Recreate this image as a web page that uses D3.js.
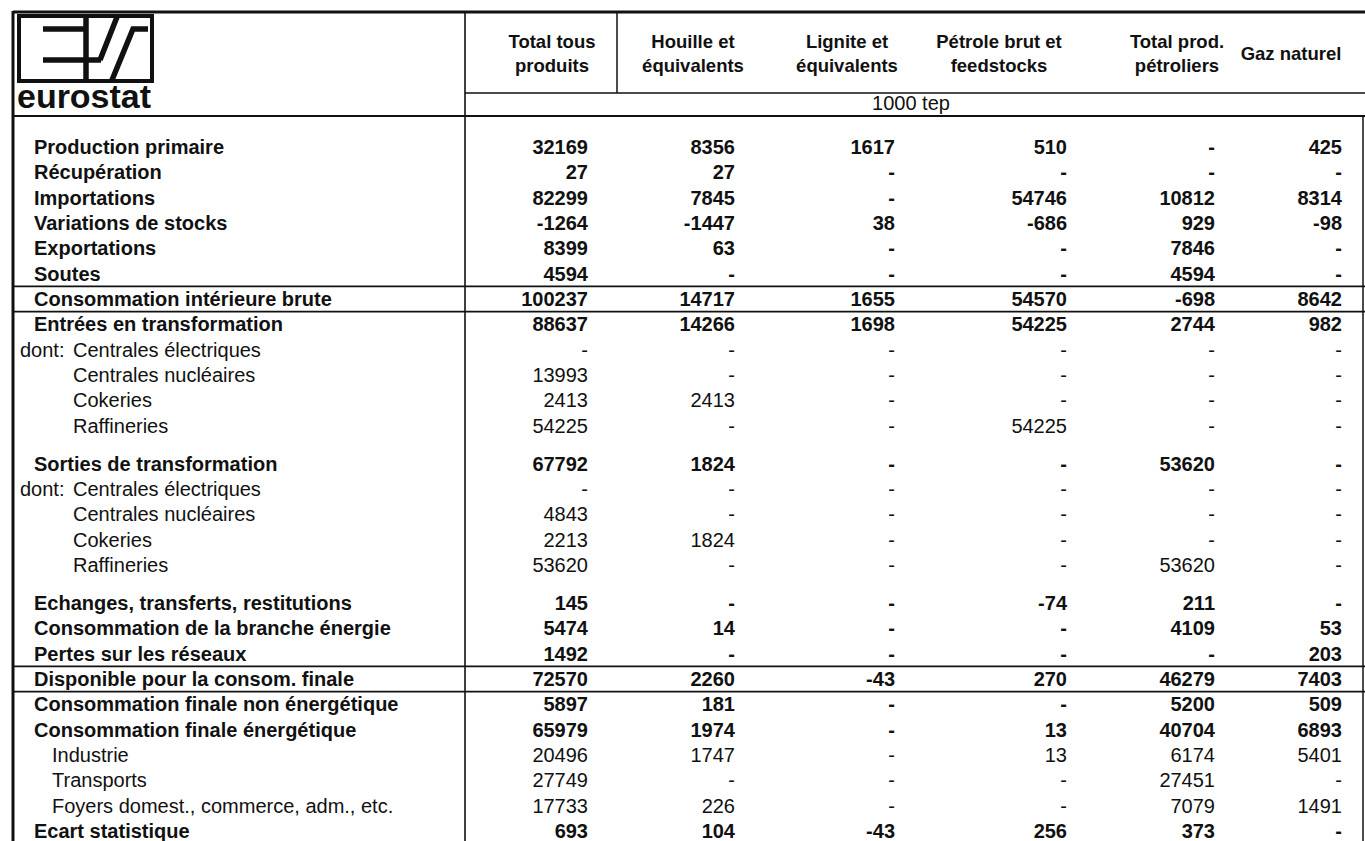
<!DOCTYPE html>
<html>
<head>
<meta charset="utf-8">
<script src="https://cdn.jsdelivr.net/npm/d3@7"></script>
<style>
  body { margin: 0; background: #fff; }
  svg { display: block; }
  text { font-family: "Liberation Sans", Arial, Helvetica, sans-serif; fill: #111; }
</style>
</head>
<body>
<svg id="table" width="1365" height="841"></svg>
<script>
// column headers (one or two lines each) and the unit line
const headers = [
  ["Total tous", "produits"],
  ["Houille et", "équivalents"],
  ["Lignite et", "équivalents"],
  ["Pétrole brut et", "feedstocks"],
  ["Total prod.", "pétroliers"],
  ["Gaz naturel"]
];
const unitLabel = "1000 tep";

// row labels, kind (b = bold, d = "dont:", s = sub item, i = indented item), block
const rowLabels = [
  "Production primaire", "Récupération", "Importations", "Variations de stocks",
  "Exportations", "Soutes", "Consommation intérieure brute", "Entrées en transformation",
  "Centrales électriques", "Centrales nucléaires", "Cokeries", "Raffineries",
  "Sorties de transformation", "Centrales électriques", "Centrales nucléaires", "Cokeries", "Raffineries",
  "Echanges, transferts, restitutions", "Consommation de la branche énergie", "Pertes sur les réseaux",
  "Disponible pour la consom. finale", "Consommation finale non énergétique",
  "Consommation finale énergétique", "Industrie", "Transports",
  "Foyers domest., commerce, adm., etc.", "Ecart statistique"
];
const rowKinds = [
  "b", "b", "b", "b", "b", "b", "b", "b", "d", "s", "s", "s",
  "b", "d", "s", "s", "s",
  "b", "b", "b", "b", "b", "b", "i", "i", "i", "b"
];
const rowBlocks = [
  0, 0, 0, 0, 0, 0, 0, 0, 0, 0, 0, 0,
  1, 1, 1, 1, 1,
  2, 2, 2, 2, 2, 2, 2, 2, 2, 2
];
const boxedRows = ["Consommation intérieure brute", "Disponible pour la consom. finale"];

// values in 1000 tep, null = "-"
const totalTous = [32169, 27, 82299, -1264, 8399, 4594, 100237, 88637, null, 13993, 2413, 54225,
  67792, null, 4843, 2213, 53620, 145, 5474, 1492, 72570, 5897, 65979, 20496, 27749, 17733, 693];
const houille = [8356, 27, 7845, -1447, 63, null, 14717, 14266, null, null, 2413, null,
  1824, null, null, 1824, null, null, 14, null, 2260, 181, 1974, 1747, null, 226, 104];
const lignite = [1617, null, null, 38, null, null, 1655, 1698, null, null, null, null,
  null, null, null, null, null, null, null, null, -43, null, null, null, null, null, -43];
const petroleBrut = [510, null, 54746, -686, null, null, 54570, 54225, null, null, null, 54225,
  null, null, null, null, null, -74, null, null, 270, null, 13, 13, null, null, 256];
const prodPetroliers = [null, null, 10812, 929, 7846, 4594, -698, 2744, null, null, null, null,
  53620, null, null, null, 53620, 211, 4109, null, 46279, 5200, 40704, 6174, 27451, 7079, 373];
const gazNaturel = [425, null, 8314, -98, null, null, 8642, 982, null, null, null, null,
  null, null, null, null, null, null, 53, 203, 7403, 509, 6893, 5401, null, 1491, null];

const series = [totalTous, houille, lignite, petroleBrut, prodPetroliers, gazNaturel];

const svg = d3.select("#table");
const W = 1365, H = 841;
const xLeft = 13, xRightEdge = 1363, yTop = 12, colStart = 465;

// vertical position: each block after the first adds half a row of space
const units = rowLabels.map((d, i) => i + rowBlocks[i] * 0.5);
const y = d3.scaleLinear().domain([0, d3.max(units)]).range([147, 831]);

const cols = d3.range(series.length);
const xRight = d3.scaleOrdinal().domain(cols).range([588, 735, 895, 1067, 1215, 1342]);
const xCenter = d3.scaleOrdinal().domain(cols).range([552, 693, 847, 999, 1177, 1291]);

svg.append("rect").attr("width", W).attr("height", H).attr("fill", "#fff");

// ---- grid lines
const lines = svg.append("g").attr("stroke", "#111").attr("fill", "none");
lines.append("line").attr("x1", xLeft).attr("x2", W).attr("y1", yTop).attr("y2", yTop).attr("stroke-width", 3);
lines.append("line").attr("x1", xLeft).attr("x2", xLeft).attr("y1", yTop - 1).attr("y2", H).attr("stroke-width", 3);
lines.append("line").attr("x1", xRightEdge).attr("x2", xRightEdge).attr("y1", 116).attr("y2", H).attr("stroke-width", 1.5);
lines.append("line").attr("x1", colStart).attr("x2", colStart).attr("y1", yTop).attr("y2", H).attr("stroke-width", 1.6);
lines.append("line").attr("x1", 617).attr("x2", 617).attr("y1", yTop).attr("y2", 93).attr("stroke-width", 1.5);
lines.append("line").attr("x1", colStart).attr("x2", W).attr("y1", 93).attr("y2", 93).attr("stroke-width", 1.6);
lines.append("line").attr("x1", xLeft).attr("x2", W).attr("y1", 116).attr("y2", 116).attr("stroke-width", 1.8);

boxedRows.forEach(label => {
  const i = rowLabels.indexOf(label);
  [units[i] - 0.5, units[i] + 0.5].forEach(u => {
    lines.append("line").attr("x1", xLeft).attr("x2", W)
      .attr("y1", y(u)).attr("y2", y(u)).attr("stroke-width", 1.7);
  });
});

// ---- logo
const logo = svg.append("g").attr("stroke", "#111").attr("fill", "none").attr("stroke-linecap", "butt");
logo.append("rect").attr("x", 19).attr("y", 16).attr("width", 133).attr("height", 65).attr("stroke-width", 4);
logo.append("path").attr("stroke-width", 5.5)
  .attr("d", "M43,29H86 M43,60H101 M86,17V80 M100,60L117,17 M112,80L133,29H148");
svg.append("text")
  .attr("x", 17).attr("y", 108)
  .attr("font-size", 33).attr("font-weight", "bold")
  .attr("textLength", 134).attr("lengthAdjust", "spacingAndGlyphs")
  .text("eurostat");

// ---- headers
const head = svg.append("g").attr("font-weight", "bold").attr("font-size", 18.5).attr("text-anchor", "middle");
headers.forEach((lns, c) => {
  const baselines = lns.length === 2 ? [48, 72] : [60];
  lns.forEach((t, k) => {
    head.append("text").attr("x", xCenter(c)).attr("y", baselines[k]).text(t);
  });
});
svg.append("text").attr("x", 911).attr("y", 110).attr("font-size", 20)
  .attr("text-anchor", "middle").text(unitLabel);

// ---- row labels
const labelX = { b: 34, d: 73, s: 73, i: 52 };
const body = svg.append("g").attr("font-size", 20);

const rows = body.selectAll("g.row")
  .data(rowLabels.map((label, i) => ({ label, i, kind: rowKinds[i] })))
  .join("g")
  .attr("class", "row")
  .attr("font-weight", d => d.kind === "b" ? "bold" : "normal")
  .attr("transform", d => `translate(0,${y(units[d.i])})`);

rows.append("text")
  .attr("x", d => labelX[d.kind])
  .attr("dy", "0.35em")
  .text(d => d.label);

rows.filter(d => d.kind === "d").append("text")
  .attr("x", 20).attr("dy", "0.35em").text("dont:");

// ---- values
rows.selectAll("text.val")
  .data(d => cols.map(c => ({ c, v: series[c][d.i] })))
  .join("text")
  .attr("class", "val")
  .attr("x", d => xRight(d.c))
  .attr("dy", "0.35em")
  .attr("text-anchor", "end")
  .text(d => d.v === null ? "-" : String(d.v));
</script>
</body>
</html>
